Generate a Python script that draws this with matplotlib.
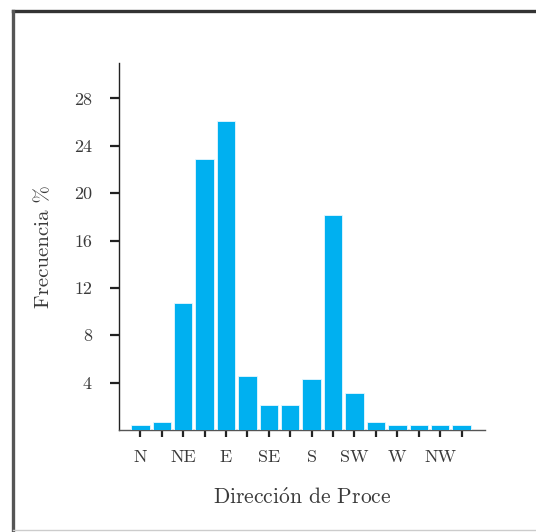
import matplotlib
matplotlib.use("Agg")
import matplotlib.pyplot as plt
from matplotlib.lines import Line2D

# Wind direction frequency (%) over 16 compass sectors
sectors = ["N", "NNE", "NE", "ENE", "E", "ESE", "SE", "SSE",
           "S", "SSW", "SW", "WSW", "W", "WNW", "NW", "NNW"]
frequency = [0.4, 0.7, 10.7, 22.9, 26.1, 4.6, 2.1, 2.1,
             4.3, 18.2, 3.1, 0.7, 0.4, 0.4, 0.4, 0.4]
tick_labels = ["N", "NE", "E", "SE", "S", "SW", "W", "NW"]
y_ticks = [4, 8, 12, 16, 20, 24, 28]

plt.rcParams["font.family"] = "serif"
plt.rcParams["font.serif"] = ["cmr10", "DejaVu Serif"]
plt.rcParams["mathtext.fontset"] = "cm"
plt.rcParams["axes.unicode_minus"] = False

text_color = "#3a3a3a"
bar_color = "#00b0f0"

fig = plt.figure(figsize=(5.36, 5.32), dpi=100)
ax = fig.add_axes([0.222, 0.1917, 0.683, 0.690])

x = list(range(len(sectors)))
ax.bar(x, frequency, width=0.86, color=bar_color,
       edgecolor="#e6f7ff", linewidth=0.6, zorder=3)

ax.set_xlim(-1.0, 16.1)
ax.set_ylim(0, 31)

# every other sector gets a compass label
ax.set_xticks(x)
ax.set_xticklabels([tick_labels[i // 2] if i % 2 == 0 else "" for i in x])
ax.set_yticks(y_ticks)

ax.tick_params(axis="x", direction="out", length=5, width=1.6,
               color="#222222", labelsize=13, labelcolor=text_color, pad=9)
ax.tick_params(axis="y", direction="out", length=6.5, width=1.6,
               color="#222222", labelsize=13, labelcolor=text_color, pad=13)

for side in ("top", "right"):
    ax.spines[side].set_visible(False)
ax.spines["left"].set_color("#222222")
ax.spines["left"].set_linewidth(1.0)
ax.spines["bottom"].set_color("#555555")
ax.spines["bottom"].set_linewidth(1.0)

ax.set_xlabel("Direcci" + r"$\mathrm{\acute{o}}$" + "n de Proce",
              fontsize=15.5, color=text_color, labelpad=16)
ax.set_ylabel("Frecuencia %", fontsize=15, color=text_color, labelpad=15)

# Outer frame: dark top and left rules, faint bottom rule
fig.add_artist(Line2D([0.024, 1.0], [1 - 11 / 532, 1 - 11 / 532],
                      transform=fig.transFigure, color="#333333", lw=2.4))
fig.add_artist(Line2D([13 / 536, 13 / 536], [0.004, 1 - 11 / 532],
                      transform=fig.transFigure, color="#555555", lw=2.4))
fig.add_artist(Line2D([13 / 536, 1.0], [2 / 532, 2 / 532],
                      transform=fig.transFigure, color="#cccccc", lw=1.0))

fig.savefig("out.png", dpi=100, facecolor="white")
